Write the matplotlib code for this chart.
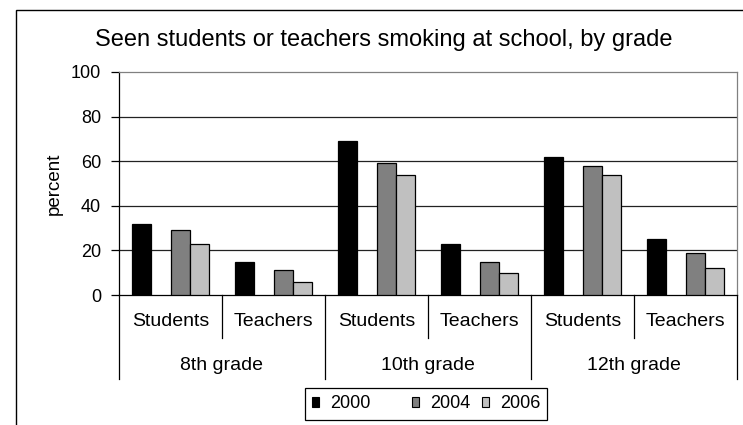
import matplotlib
matplotlib.use('Agg')
import matplotlib.pyplot as plt
import matplotlib.transforms as mtransforms
from matplotlib.patches import Patch, Rectangle
import numpy as np

plt.rcParams['font.family'] = ['Liberation Sans', 'DejaVu Sans']

# data
grades = ['8th grade', '10th grade', '12th grade']
groups = ['Students', 'Teachers']
years = ['2000', '', '2004', '2006']   # blank series leaves the gap after 2000
colors = ['#000000', '#ffffff', '#808080', '#c0c0c0']
vals_2000 = [32, 15, 69, 23, 62, 25]
vals_2004 = [29, 11, 59, 15, 58, 19]
vals_2006 = [23, 6, 54, 10, 54, 12]
series = [vals_2000, None, vals_2004, vals_2006]

title = 'Seen students or teachers smoking at school, by grade'

fig = plt.figure(figsize=(7.43, 4.25), dpi=100)
ax = fig.add_axes([119 / 743, 1 - 295 / 425, 618 / 743, 223 / 425])

n_cat = len(grades) * len(groups)
x = np.arange(n_cat) + 0.5
w = 0.188
offsets = (np.arange(4) - 1.5) * w

for k, vals in enumerate(series):
    if vals is None:
        continue
    ax.bar(x + offsets[k], vals, width=w, color=colors[k],
           edgecolor='black', linewidth=0.9, zorder=3)

ax.set_xlim(0, n_cat)
ax.set_ylim(0, 100)
ax.set_yticks(range(0, 101, 20))
ax.tick_params(axis='y', direction='out', length=6, width=0.9, pad=7,
               labelsize=13, color='black')
ax.set_xticks([])
for yv in range(20, 100, 20):
    ax.axhline(yv, color='#222222', linewidth=0.9, zorder=1)

ax.spines['left'].set_color('black')
ax.spines['bottom'].set_color('black')
ax.spines['top'].set_color('#808080')
ax.spines['right'].set_color('#808080')
for s in ax.spines.values():
    s.set_linewidth(0.9)

ax.set_ylabel('percent', fontsize=13.5, labelpad=6)

# two-level category axis
trans = mtransforms.blended_transform_factory(ax.transData, ax.transAxes)
for i in range(n_cat):
    ax.text(i + 0.5, -0.121, groups[i % 2], transform=trans, ha='center',
            va='center', fontsize=14)
for j, g in enumerate(grades):
    ax.text(2 * j + 1, -0.318, g, transform=trans, ha='center',
            va='center', fontsize=14)
for xv in range(0, n_cat + 1):
    depth = -0.377 if xv % 2 == 0 else -0.193
    ax.plot([xv, xv], [0, depth], transform=trans, color='black',
            linewidth=0.9, clip_on=False)

# legend with an empty slot between 2000 and 2004
handles = []
for k in range(4):
    if series[k] is None:
        handles.append(Patch(facecolor='none', edgecolor='none', label=years[k]))
    else:
        handles.append(Patch(facecolor=colors[k], edgecolor='black',
                             linewidth=0.8, label=years[k]))
leg = fig.legend(handles=handles, loc='center', ncol=4,
                 bbox_to_anchor=(426 / 743, 1 - 404 / 425), fontsize=13,
                 frameon=True, fancybox=False, edgecolor='black',
                 framealpha=1, handlelength=0.4, handleheight=0.4,
                 handletextpad=0.6, columnspacing=0.65, borderpad=0.4)
leg.get_frame().set_linewidth(0.9)

fig.text(384 / 743, 1 - 40 / 425, title, ha='center', va='center', fontsize=17)

# outer chart border
fig.patches.append(Rectangle((16 / 743, -0.1), 1.0, 1 - 10 / 425 + 0.1,
                             transform=fig.transFigure, fill=False,
                             edgecolor='black', linewidth=1.0))

fig.savefig('out.png', dpi=100)
